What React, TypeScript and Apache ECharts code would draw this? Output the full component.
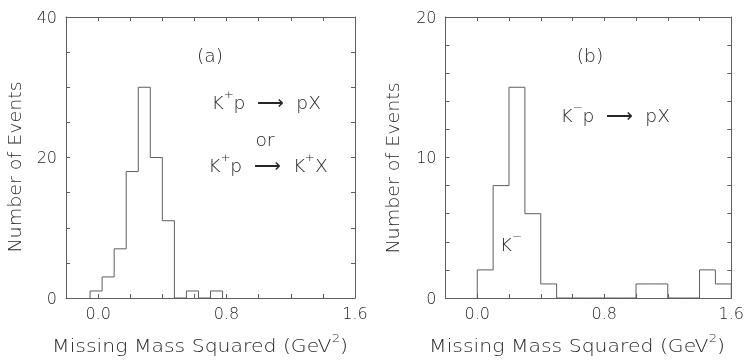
import React, { useEffect, useRef } from 'react';
import * as echarts from 'echarts';

// Panel (a): K+p -> pX or K+p -> K+X, bins of 0.075 GeV^2
const edgesA = [-0.05, 0.025, 0.1, 0.175, 0.25, 0.325, 0.4, 0.475, 0.55, 0.625, 0.7, 0.775];
const countsA = [1, 3, 7, 18, 30, 20, 11, 0, 1, 0, 1];

// Panel (b): K-p -> pX, bins of 0.1 GeV^2
const edgesB = [0.0, 0.1, 0.2, 0.3, 0.4, 0.5, 0.6, 0.7, 0.8, 0.9, 1.0, 1.1, 1.2, 1.3, 1.4, 1.5, 1.6];
const countsB = [2, 8, 15, 6, 1, 0, 0, 0, 0, 0, 1, 1, 0, 0, 2, 1];

const xMin = -0.2;
const xMax = 1.6;
const xTick = 0.2;
const xLabelStep = 0.8;
const yMaxA = 40;
const yTickA = 5;
const yLabelStepA = 20;
const yMaxB = 20;
const yTickB = 2;
const yLabelStepB = 10;

const xTitle = '{n|Missing Mass Squared (GeV}{s|2}{n|)}';
const yTitle = 'Number of Events';

function outline(edges: number[], counts: number[]): number[][] {
  const pts: number[][] = [[edges[0], 0]];
  counts.forEach((c, i) => {
    pts.push([edges[i], c]);
    pts.push([edges[i + 1], c]);
  });
  pts.push([edges[edges.length - 1], 0]);
  return pts;
}

const FONT = 'DejaVu Sans';
const INK = '#5e5e5e';
const TXT = '#262626';

function isMultiple(v: number, step: number) {
  const r = v / step;
  return Math.abs(r - Math.round(r)) < 1e-6;
}

export default function App() {
  const ref = useRef<HTMLDivElement>(null);
  useEffect(() => {
    document.body.style.margin = '0';
    const chart = echarts.init(ref.current!, null, { renderer: 'svg' });
    const grids = [
      { left: 66, top: 17, width: 289, height: 281 },
      { left: 445.5, top: 17, width: 289.5, height: 281 },
    ];
    const axLine = { show: true, onZero: false, lineStyle: { color: INK, width: 1 } };
    const tick = { show: true, inside: true, length: 4, lineStyle: { color: INK, width: 1 } };
    const labelStyle = { fontFamily: FONT, fontSize: 16, fontWeight: 200, color: TXT };
    const xBottom = (gi: number) => ({
      type: 'value', gridIndex: gi, position: 'bottom', min: xMin, max: xMax, interval: xTick,
      axisLine: axLine, axisTick: tick, splitLine: { show: false },
      axisLabel: {
        ...labelStyle, margin: 7, showMinLabel: true, showMaxLabel: true,
        formatter: (v: number) => (v >= -1e-9 && isMultiple(v, xLabelStep) ? Math.abs(v).toFixed(1) : ''),
      },
    });
    const xTop = (gi: number) => ({
      type: 'value', gridIndex: gi, position: 'top', min: xMin, max: xMax, interval: xTick,
      axisLine: axLine, axisTick: tick, splitLine: { show: false }, axisLabel: { show: false },
    });
    const yLeft = (gi: number, max: number, step: number, lstep: number) => ({
      type: 'value', gridIndex: gi, position: 'left', min: 0, max, interval: step,
      axisLine: axLine, axisTick: tick, splitLine: { show: false },
      axisLabel: {
        ...labelStyle, margin: 9,
        formatter: (v: number) => (isMultiple(v, lstep) ? String(Math.round(v)) : ''),
      },
    });
    const yRight = (gi: number, max: number, step: number) => ({
      type: 'value', gridIndex: gi, position: 'right', min: 0, max, interval: step,
      axisLine: axLine, axisTick: tick, splitLine: { show: false }, axisLabel: { show: false },
    });

    const rich = {
      n: { fontFamily: FONT, fontSize: 17, fontWeight: 200, fill: TXT, color: TXT, lineHeight: 22, verticalAlign: 'bottom' },
      s: { fontFamily: FONT, fontSize: 11, fontWeight: 200, fill: TXT, color: TXT, lineHeight: 22, verticalAlign: 'top' },
    };
    const txt = (text: string, x: number, y: number, extra: any = {}) => ({
      type: 'text', x, y, silent: true, ...extra,
      style: {
        text, fontFamily: FONT, fontSize: 17, fontWeight: 200, fill: TXT,
        align: 'center', verticalAlign: 'middle', rich,
      },
    });

    chart.setOption({
      animation: false,
      grid: grids,
      xAxis: [xBottom(0), xTop(0), xBottom(1), xTop(1)],
      yAxis: [
        yLeft(0, yMaxA, yTickA, yLabelStepA), yRight(0, yMaxA, yTickA),
        yLeft(1, yMaxB, yTickB, yLabelStepB), yRight(1, yMaxB, yTickB),
      ],
      series: [
        {
          type: 'line', xAxisIndex: 0, yAxisIndex: 0, data: outline(edgesA, countsA),
          showSymbol: false, symbol: 'none', lineStyle: { color: INK, width: 1 }, silent: true,
        },
        {
          type: 'line', xAxisIndex: 2, yAxisIndex: 2, data: outline(edgesB, countsB),
          showSymbol: false, symbol: 'none', lineStyle: { color: INK, width: 1 }, silent: true,
        },
      ],
      graphic: [
        txt(xTitle, 200, 344, { scaleX: 1.2 }),
        txt(xTitle, 577, 344, { scaleX: 1.2 }),
        txt(yTitle, 15, 167, { rotation: Math.PI / 2, scaleX: 1.12 }),
        txt(yTitle, 393, 168, { rotation: Math.PI / 2, scaleX: 1.12 }),
        txt('{n|(a)}', 210, 53, { scaleX: 1.1 }),
        txt('{n|K}{s|+}{n|p  ⟶  pX}', 266, 100, { scaleX: 1.1 }),
        txt('{n|or}', 265, 137, { scaleX: 1.1 }),
        txt('{n|K}{s|+}{n|p  ⟶  K}{s|+}{n|X}', 268, 163, { scaleX: 1.1 }),
        txt('{n|(b)}', 590, 53, { scaleX: 1.1 }),
        txt('{n|K}{s|−}{n|p  ⟶  pX}', 615, 113, { scaleX: 1.1 }),
        txt('{n|K}{s|−}', 511, 242, { scaleX: 1.1 }),
      ],
    });
    return () => chart.dispose();
  }, []);
  return (
    <div
      ref={ref}
      style={{
        position: 'absolute', left: 0, top: 0, width: 747, height: 360,
        opacity: 0.999, willChange: 'transform',
      }}
    />
  );
}
